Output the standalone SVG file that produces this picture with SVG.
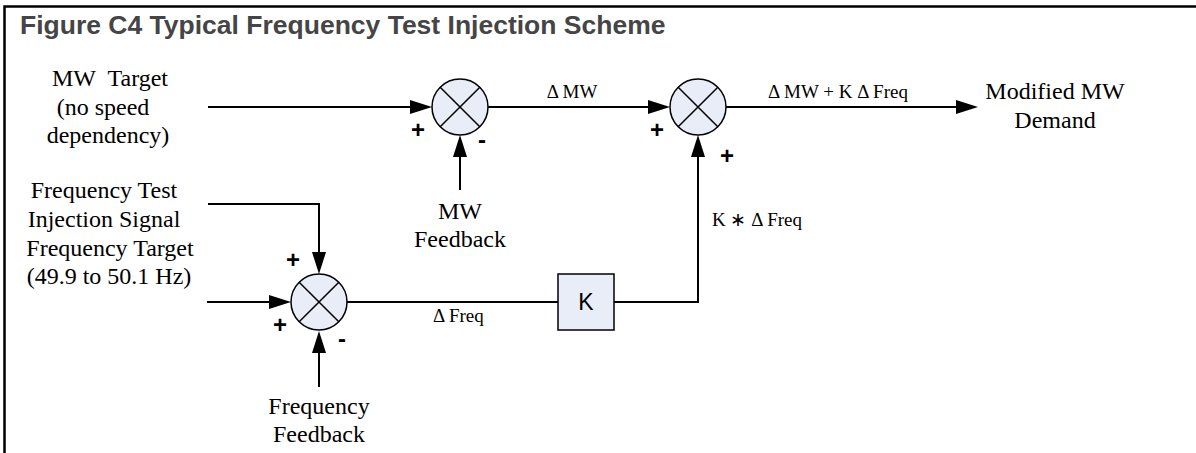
<svg xmlns="http://www.w3.org/2000/svg" width="1196" height="453" viewBox="0 0 1196 453">
  <style>
    .frame { stroke: #000; stroke-width: 2.5; fill: none; }
    .title { font-family: "Liberation Sans", Arial, sans-serif; font-weight: bold; font-size: 26.5px; fill: #454545; }
    .lbl { font-family: "Liberation Serif", "Times New Roman", serif; font-size: 24px; fill: #000; text-anchor: middle; }
    .sig { font-family: "Liberation Serif", "Times New Roman", serif; font-size: 19px; fill: #000; }
    .sign { font-family: "Liberation Sans", Arial, sans-serif; font-weight: bold; font-size: 24px; fill: #000; text-anchor: middle; }
    .sum { fill: #e8edf7; stroke: #000; stroke-width: 1.5; }
    .cross { stroke: #000; stroke-width: 1.5; fill: none; }
    .box { fill: #e8edf7; stroke: #000; stroke-width: 1.5; }
    .ktxt { font-family: "Liberation Sans", Arial, sans-serif; font-size: 23px; fill: #000; text-anchor: middle; }
    .conn { stroke: #000; stroke-width: 2; fill: none; }
  </style>
  <defs>
    <marker id="arrow" markerUnits="userSpaceOnUse" markerWidth="22" markerHeight="14" refX="12" refY="7" orient="auto">
      <path d="M0,0 L22,7 L0,14 z" fill="#000"/>
    </marker>
  </defs>
  <rect width="1196" height="453" fill="#fff"/>
  <path class="frame" d="M4.5,453 V6.5 H1196"/>
  <text class="title" x="20" y="34">Figure C4 Typical Frequency Test Injection Scheme</text>

  <g id="connectors">
    <path class="conn" d="M208,107 H422" marker-end="url(#arrow)"/>
    <path class="conn" d="M460,190 V145" marker-end="url(#arrow)"/>
    <path class="conn" d="M488,107 H660" marker-end="url(#arrow)"/>
    <path class="conn" d="M726,107 H968" marker-end="url(#arrow)"/>
    <path class="conn" d="M614,302 H698 V145" marker-end="url(#arrow)"/>
    <path class="conn" d="M347,302 H558"/>
    <path class="conn" d="M207,302 H281" marker-end="url(#arrow)"/>
    <path class="conn" d="M208,204 H319 V264" marker-end="url(#arrow)"/>
    <path class="conn" d="M319,387 V341" marker-end="url(#arrow)"/>
    <text class="sig" x="572" y="98" text-anchor="middle">Δ MW</text>
    <text class="sig" x="838" y="98" text-anchor="middle">Δ MW + K Δ Freq</text>
    <text class="sig" x="712" y="226">K ∗ Δ Freq</text>
    <text class="sig" x="433" y="322">Δ Freq</text>
  </g>

  <g id="mw-target">
    <text class="lbl" x="110" y="86">MW&#160; Target</text>
    <text class="lbl" x="103" y="115">(no speed</text>
    <text class="lbl" x="108" y="143">dependency)</text>
  </g>
  <g id="freq-test-injection">
    <text class="lbl" x="104" y="198">Frequency Test</text>
    <text class="lbl" x="104" y="227">Injection Signal</text>
  </g>
  <g id="freq-target">
    <text class="lbl" x="110" y="256">Frequency Target</text>
    <text class="lbl" x="109" y="284">(49.9 to 50.1 Hz)</text>
  </g>
  <g id="mw-feedback">
    <text class="lbl" x="460" y="219">MW</text>
    <text class="lbl" x="460" y="247">Feedback</text>
  </g>
  <g id="freq-feedback">
    <text class="lbl" x="319" y="414">Frequency</text>
    <text class="lbl" x="319" y="442">Feedback</text>
  </g>
  <g id="modified-mw-demand">
    <text class="lbl" x="1055" y="99">Modified MW</text>
    <text class="lbl" x="1055" y="128">Demand</text>
  </g>

  <g id="sum1">
    <circle class="sum" cx="460" cy="107" r="28"/>
    <path class="cross" d="M440.2,87.2 L479.8,126.8 M479.8,87.2 L440.2,126.8"/>
    <text class="sign" x="418" y="138">+</text>
    <text class="sign" x="482" y="148">-</text>
  </g>
  <g id="sum2">
    <circle class="sum" cx="698" cy="107" r="28"/>
    <path class="cross" d="M678.2,87.2 L717.8,126.8 M717.8,87.2 L678.2,126.8"/>
    <text class="sign" x="657" y="138">+</text>
    <text class="sign" x="727" y="164">+</text>
  </g>
  <g id="sum3">
    <circle class="sum" cx="319" cy="302" r="28"/>
    <path class="cross" d="M299.2,282.2 L338.8,321.8 M338.8,282.2 L299.2,321.8"/>
    <text class="sign" x="293" y="268">+</text>
    <text class="sign" x="280" y="333">+</text>
    <text class="sign" x="342" y="347">-</text>
  </g>
  <g id="gain-k">
    <rect class="box" x="558" y="274" width="56" height="56"/>
    <text class="ktxt" x="586" y="310">K</text>
  </g>
</svg>
